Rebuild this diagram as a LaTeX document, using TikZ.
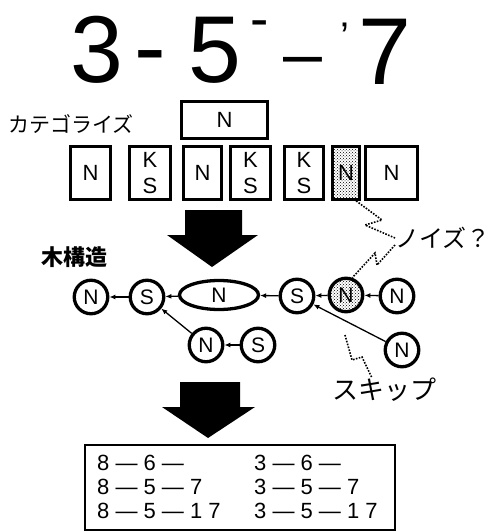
\documentclass[tikz,border=0pt]{standalone}
\usepackage{fontspec}
\setmainfont{Liberation Sans}
\newfontfamily\jpfont{Noto Sans CJK JP}
\usetikzlibrary{shapes.geometric,arrows.meta,patterns}
\tikzset{
  catbox/.style={draw,line width=3.3pt,inner sep=0pt,minimum height=52.5pt,
    align=center,font=\fontsize{22}{26}\selectfont},
  tnode/.style={circle,draw,line width=3.3pt,minimum size=33.5pt,inner sep=0pt,
    font=\fontsize{21}{21}\selectfont},
  link/.style={-{Latex[length=6pt,width=5pt]},line width=1.3pt},
  noise/.style={line width=1.6pt,dash pattern=on 1.6pt off 1.4pt},
  jplabel/.style={inner sep=0pt,font=\jpfont\fontsize{21}{21}\selectfont},
  restext/.style={inner sep=0pt,align=left,font=\fontsize{22}{24}\selectfont}
}
\newcommand{\catcell}[4]{\node[catbox,minimum width=#3pt] (#1) at (#2,173) {#4};}
\newcommand{\titlechar}[5]{\node[anchor=base,inner sep=0pt,font=\fontsize{#4}{#4}\selectfont] (#1) at (#2,#3) {#5};}

\begin{document}
\begin{tikzpicture}[x=1pt,y=-1pt]
  \useasboundingbox (0,0) rectangle (499,532);

  % title
  \titlechar{t1}{97}{83}{95}{3}
  \titlechar{t2}{150}{80}{95}{-}
  \titlechar{t3}{215}{83}{95}{5}
  \titlechar{t4}{260}{38}{55}{-}
  \titlechar{t5}{303}{78}{70}{–}
  \titlechar{t6}{345}{51}{40}{'}
  \titlechar{t7}{385}{85}{95}{7}

  % categories
  \node[jplabel,anchor=west] (catlbl) at (8,124) {カテゴライズ};
  \node[catbox,minimum width=85.5pt,minimum height=36.5pt] (top) at (224.5,120) {N};
  \catcell{k1}{90.5}{39.5}{N}
  \catcell{k2}{150}{40.5}{K\\S}
  \catcell{k3}{202.5}{37.5}{N}
  \catcell{k4}{250.5}{39.5}{K\\S}
  \catcell{k5}{304}{38.5}{K\\S}
  \node[catbox,minimum width=26.5pt,pattern=crosshatch dots] (k6) at (346,173) {N};
  \catcell{k7}{391.5}{51.5}{N}

  % arrows down
  \fill (185,210) -- (242,210) -- (242,235) -- (258,235) -- (212,267) -- (167,235) -- (185,235) -- cycle;
  \fill (180,382) -- (240,382) -- (240,407) -- (255,407) -- (208,438) -- (162,407) -- (180,407) -- cycle;

  % tree
  \node[jplabel,font=\jpfont\bfseries\fontsize{22}{22}\selectfont] (treelbl) at (74,257) {木構造};
  \node[tnode] (na) at (91,297) {N};
  \node[tnode] (sa) at (147,297) {S};
  \node[tnode,ellipse,minimum width=79pt,minimum height=29pt] (ne) at (219,295) {N};
  \node[tnode] (sb) at (297,296) {S};
  \node[tnode,pattern=crosshatch dots] (nn) at (346,295) {N};
  \node[tnode] (nr) at (397,296) {N};
  \node[tnode] (nl) at (206,345) {N};
  \node[tnode] (sl) at (258,345) {S};
  \node[tnode] (nk) at (402,350) {N};

  \draw[link] (sa) -- (na);
  \draw[link] (ne) -- (sa);
  \draw[link] (sb) -- (ne);
  \draw[link] (nn) -- (sb);
  \draw[link] (nr) -- (nn);
  \draw[link] (sl) -- (nl);
  \draw[link] (nl) -- (sa);
  \draw[link] (nk) -- (sb);

  % notes
  \node[jplabel,anchor=west,font=\jpfont\fontsize{24}{24}\selectfont] (noiselbl) at (395,238) {ノイズ？};
  \node[jplabel,anchor=west,font=\jpfont\fontsize{26}{26}\selectfont] (skiplbl) at (332,390) {スキップ};
  \coordinate (skp) at (345,335);
  \draw[noise] (k6.290) -- (382,220) -- (365,225) -- (noiselbl.west);
  \draw[noise] (395,245) -- (377,265) -- (375,253) -- (nn.70);
  \draw[noise] (skp) -- (352,360) -- (362,357) -- (skiplbl.north west -| 372,0);

  % result
  \node[draw,line width=1.5pt,minimum width=310pt,minimum height=85pt] (res) at (240,487.5) {};
  \node[restext,anchor=north west] (resl) at (97,455) {8 — 6 —\\8 — 5 — 7\\8 — 5 — 1 7};
  \node[restext,anchor=north west] (resr) at (254,455) {3 — 6 —\\3 — 5 — 7\\3 — 5 — 1 7};
\end{tikzpicture}
\end{document}
